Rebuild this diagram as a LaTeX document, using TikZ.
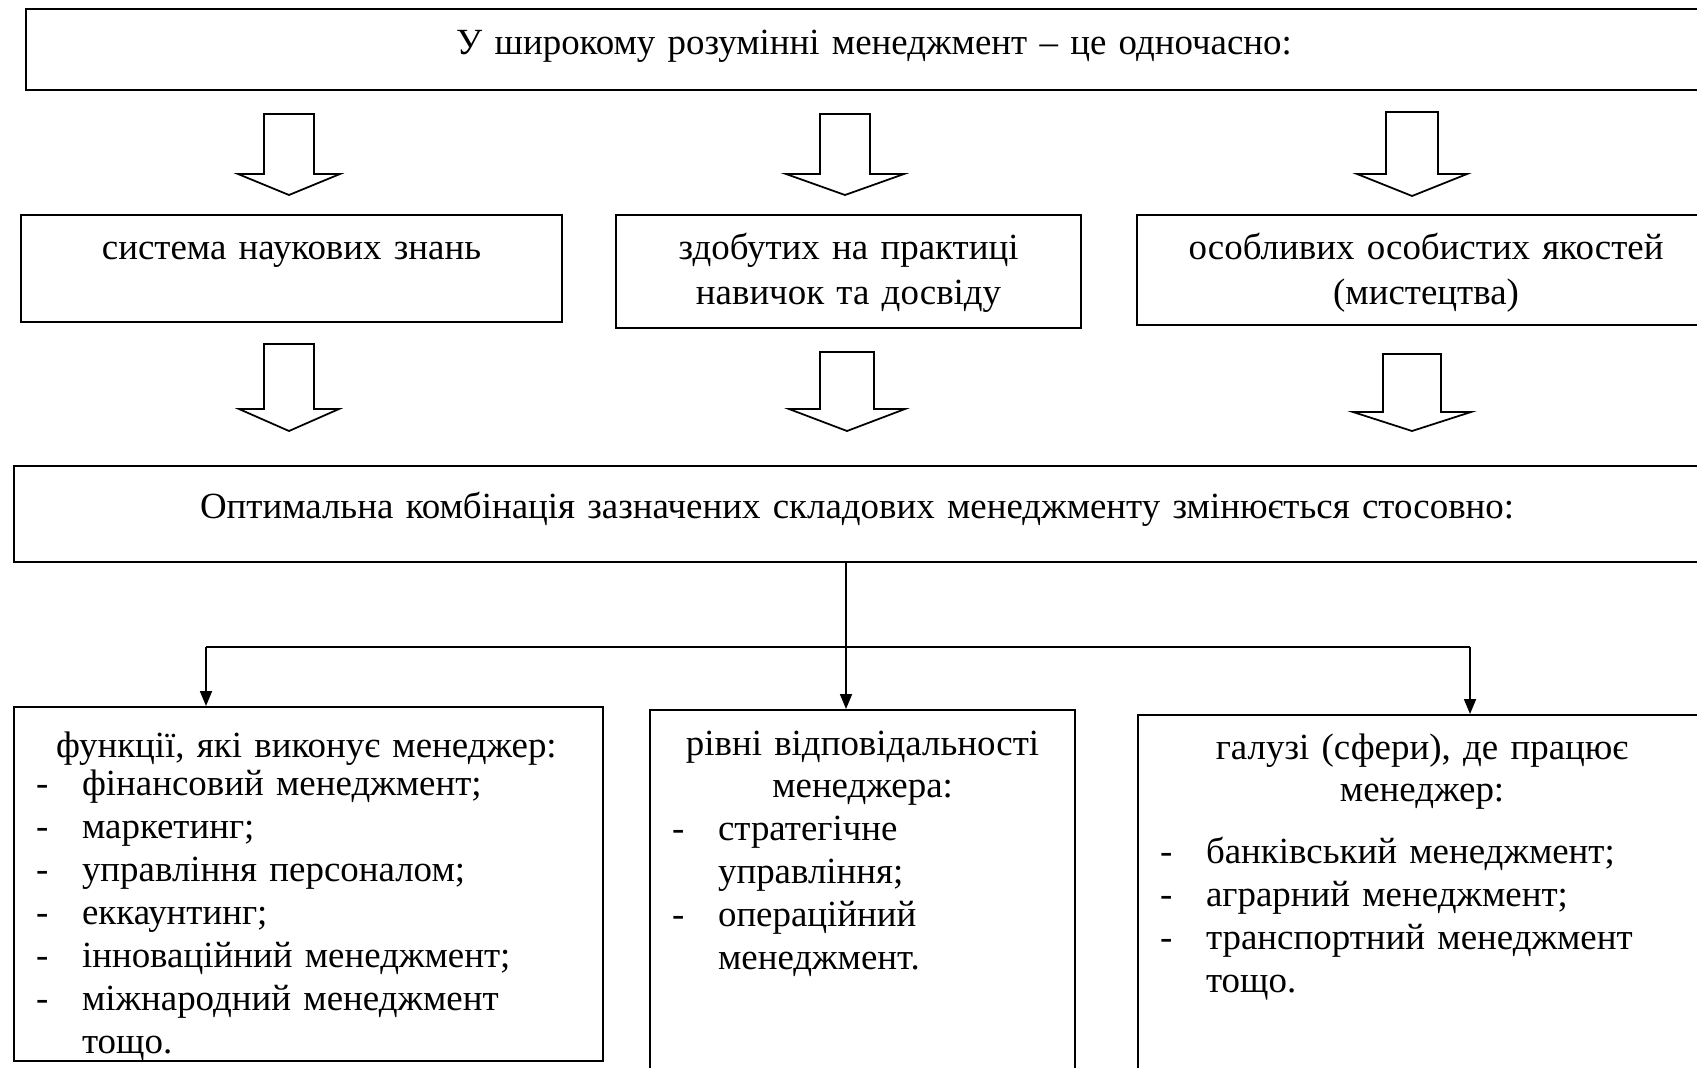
\documentclass[tikz,border=0pt]{standalone}
\usepackage{fontspec}
\setmainfont{Liberation Serif}
\usetikzlibrary{positioning,arrows.meta}

\newcommand{\itm}{\hspace*{2.2mm}\makebox[4.6mm][l]{-}}

\begin{document}
\begin{tikzpicture}[
    x=0.1mm, y=-0.1mm,
    every node/.style={font=\fontsize{10.5pt}{12.2pt}\selectfont},
    box/.style={draw, line width=0.6pt, inner sep=0pt, anchor=north west},
    row/.style={font=\fontsize{10.5pt}{12.8pt}\selectfont, align=center, text height=4.4mm},
    arr/.style={-{Triangle[length=1.5mm, width=1.2mm]}, line width=0.5pt},
    pics/fat/.style args={#1/#2/#3/#4}{code={
        \draw[line width=0.5pt, fill=white] (-#1,0) -- (#1,0) -- (#1,#3) -- (#2,#3) -- (0,#4) -- (-#2,#3) -- (-#1,#3) -- cycle;
    }}
]
    \useasboundingbox (0,0) rectangle (1697,1067);
    \clip (0,0) rectangle (1697,1067);

    \node[box, text width=169.6mm, text height=4.5mm, text depth=3.6mm, align=center] (top) at (25,8) {У широкому розумінні менеджмент – це одночасно:};

    \node[box, row, text width=54.1mm, text depth=6.3mm] (sys) at (20,214) {система наукових знань};
    \node[box, row, text width=46.5mm, text depth=6.9mm] (prac) at (615,214) {здобутих на практиці\\ навичок та досвіду};
    \node[box, row, text width=57.8mm, text depth=6.6mm] (art) at (1136,214) {особливих особистих якостей\\ (мистецтва)};

    \pic at (289,114) {fat=25/51/60/81};
    \pic at (845,114) {fat=25/59/60/81};
    \pic at (1412,112) {fat=26/55/62/84};

    \pic at (289,344) {fat=25/50/65/87};
    \pic at (847,352) {fat=27/58/57/79};
    \pic at (1412,354) {fat=29/59/58/77};

    \node[box, text width=168.6mm, text height=5.2mm, text depth=4.4mm, align=center] (comb) at (13,465) {Оптимальна комбінація зазначених складових менеджменту змінюється стосовно:};

    \node[box, text width=58.9mm, text height=5.0mm, text depth=30.4mm, align=left] (fun) at (13,706) {\hspace*{4.2mm}функції, які виконує менеджер:\\[-0.4mm]
        \itm фінансовий менеджмент;\\
        \itm маркетинг;\\
        \itm управління персоналом;\\
        \itm еккаунтинг;\\
        \itm інноваційний менеджмент;\\
        \itm міжнародний менеджмент\\
        \hspace*{6.8mm}тощо.};
    \node[box, text width=42.5mm, text height=4.5mm, text depth=34.7mm, align=left] (lev) at (649,709) {\makebox[42.5mm]{рівні відповідальності}\\
        \makebox[42.5mm]{менеджера:}\\
        \itm стратегічне\\
        \hspace*{6.8mm}управління;\\
        \itm операційний\\
        \hspace*{6.8mm}менеджмент.};
    \node[box, text width=62.3mm, text height=4.4mm, text depth=34.3mm, align=left] (fld) at (1137,714) {\makebox[56.8mm]{галузі (сфери), де працює}\\
        \makebox[56.8mm]{менеджер:}\\[1.9mm]
        \itm банківський менеджмент;\\
        \itm аграрний менеджмент;\\
        \itm транспортний менеджмент\\
        \hspace*{6.8mm}тощо.};

    \coordinate (busL) at (206,647);
    \coordinate (busM) at (846,647);
    \coordinate (busR) at (1470,647);
    \draw[line width=0.5pt] (busL) -- (busR);
    \draw[arr] (busM |- comb.south) -- (busM |- lev.north);
    \draw[arr] (busL) -- (busL |- fun.north);
    \draw[arr] (busR) -- (busR |- fld.north);
\end{tikzpicture}
\end{document}
